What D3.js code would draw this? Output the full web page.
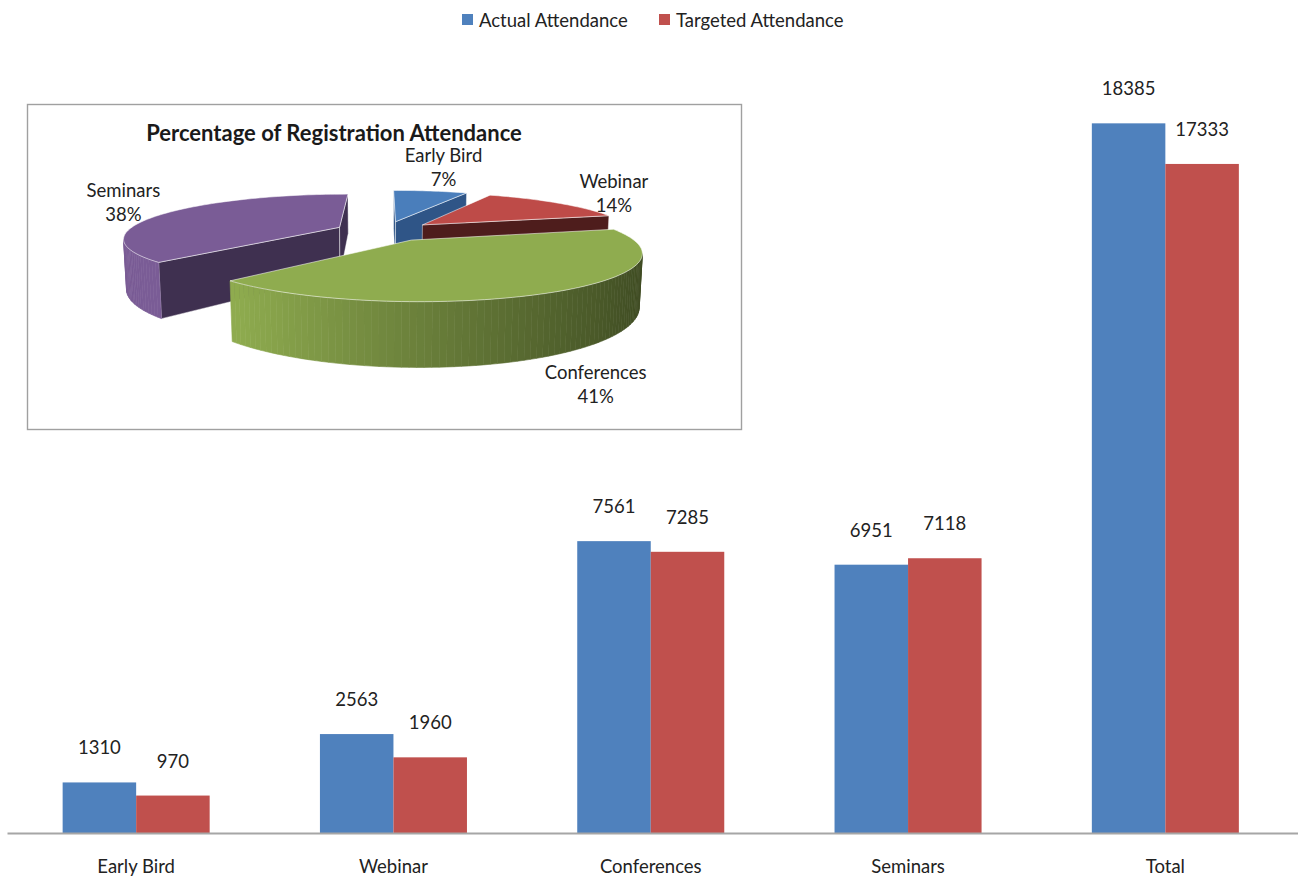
<!DOCTYPE html>
<html>
<head>
<meta charset="utf-8">
<script src="https://cdn.jsdelivr.net/npm/d3@7"></script>
<style>
  html, body { margin: 0; padding: 0; background: #fff; }
  svg { display: block; font-family: Lato, "Open Sans", sans-serif; }
</style>
</head>
<body>
<svg id="chart" width="1298" height="876"></svg>
<script>
// ---------- data ----------
const categories = ["Early Bird", "Webinar", "Conferences", "Seminars", "Total"];
const seriesNames = ["Actual Attendance", "Targeted Attendance"];
const actualValues = [1310, 2563, 7561, 6951, 18385];
const targetedValues = [970, 1960, 7285, 7118, 17333];
const pieTitle = "Percentage of Registration Attendance";
const pieCategories = ["Early Bird", "Webinar", "Conferences", "Seminars"];
const pieValues = [1310, 2563, 7561, 6951];

// ---------- styles ----------
const seriesColors = ["#4F81BD", "#C0504D"];
const pieTopColors = ["#4A7EBB", "#BE4B48", "#8FAC4F", "#7A5C96"];
const pieCutColors = ["#2F5587", "#4E1D1C", "#4F6329", "#3F3050"];
const pieLabelNudge = [[13, -23], [57, -9], [36, 94], [-42, -10]];
const FS = 18.5;

const svg = d3.select("#chart");
const W = 1298, H = 876;

// ---------- bar chart ----------
const baseY = 833;
const x0 = d3.scaleBand().domain(categories).range([7.5, 1294]).padding(0);
const x1 = d3.scaleBand().domain(seriesNames)
  .range([x0.bandwidth() * 0.2143, x0.bandwidth() * 0.7857]).padding(0);
const y = d3.scaleLinear().domain([0, 20000]).range([baseY, 61]);

const rows = categories.map((c, i) => ({ cat: c, vals: [actualValues[i], targetedValues[i]] }));

const groups = svg.append("g").selectAll("g").data(rows).join("g")
  .attr("transform", d => `translate(${x0(d.cat)},0)`);

groups.selectAll("rect").data(d => d.vals.map((v, j) => ({ v, s: seriesNames[j], j })))
  .join("rect")
  .attr("x", d => x1(d.s))
  .attr("y", d => y(d.v))
  .attr("width", x1.bandwidth())
  .attr("height", d => baseY - y(d.v))
  .attr("fill", d => seriesColors[d.j]);

groups.selectAll("text.val").data(d => d.vals.map((v, j) => ({ v, s: seriesNames[j], j })))
  .join("text").attr("class", "val")
  .attr("x", d => x1(d.s) + x1.bandwidth() / 2)
  .attr("y", d => y(d.v) - 28)
  .attr("text-anchor", "middle")
  .attr("font-size", FS)
  .attr("fill", "#222")
  .text(d => d.v);

// axis
const xAxis = d3.axisBottom(x0).tickSize(0).tickPadding(27);
const axG = svg.append("g").attr("transform", `translate(0,${baseY})`).call(xAxis);
axG.select(".domain").remove();
axG.selectAll("text").attr("font-size", FS).attr("fill", "#222").attr("font-family", "Lato, 'Open Sans', sans-serif");
svg.append("line").attr("x1", 7.5).attr("x2", W).attr("y1", baseY + 0.5).attr("y2", baseY + 0.5)
  .attr("stroke", "#A6A6A6").attr("stroke-width", 2);

// legend
const legend = svg.append("g");
const legX = [462, 659];
seriesNames.forEach((s, i) => {
  legend.append("rect").attr("x", legX[i]).attr("y", 14).attr("width", 11).attr("height", 11).attr("fill", seriesColors[i]);
  legend.append("text").attr("x", legX[i] + 17).attr("y", 26.5).attr("font-size", FS).attr("fill", "#222").text(s);
});

// ---------- 3D pie inset ----------
const box = svg.append("g");
box.append("rect").attr("x", 27.5).attr("y", 104.5).attr("width", 714).attr("height", 325)
  .attr("fill", "#fff").attr("stroke", "#A0A0A0").attr("stroke-width", 1.4);
box.append("text").attr("x", 334).attr("y", 141).attr("text-anchor", "middle")
  .attr("font-size", 22).attr("font-weight", "bold").attr("fill", "#1a1a1a").text(pieTitle);

const R = 212, h = 50, e = 50, D = 900, cx = 385, cy = 231;
const sinT = 0.2, cosT = Math.sqrt(1 - sinT * sinT);
const cam = [0, D * sinT, D * cosT];
function P(X, Y, Z) {
  const depth = Z * cosT + Y * sinT;
  const s = D / (D - depth);
  return [cx + X * s, cy + (Z * sinT - Y * cosT) * s];
}
const arcs = d3.pie().sort(null).value(d => d)(pieValues);
const total = d3.sum(pieValues);
const pct = d3.format(".0%");

const slices = arcs.map((d, i) => {
  const a0 = d.startAngle, a1 = d.endAngle, mid = (a0 + a1) / 2;
  const ox = e * Math.sin(mid), oz = -e * Math.cos(mid);
  return { i, a0, a1, mid, ox, oz, depth: oz * cosT };
}).sort((a, b) => a.depth - b.depth);

const pieG = box.append("g");
const line = d3.line();
function visible(n, p) {
  return (cam[0] - p[0]) * n[0] + (cam[1] - p[1]) * n[1] + (cam[2] - p[2]) * n[2] > 0;
}
slices.forEach(sl => {
  const W3 = (a, r, Yv) => [sl.ox + r * Math.sin(a), Yv, sl.oz - r * Math.cos(a)];
  const pt = (a, r, Yv) => P(...W3(a, r, Yv));
  const g = pieG.append("g");
  const top = pieTopColors[sl.i];
  // cut faces
  [[sl.a0, [-Math.cos(sl.a0), 0, -Math.sin(sl.a0)]], [sl.a1, [Math.cos(sl.a1), 0, Math.sin(sl.a1)]]].forEach(([a, n]) => {
    const pm = W3(a, R / 2, -h / 2);
    if (visible(n, pm)) {
      g.append("path").attr("d", line([pt(0, 0, 0), pt(a, R, 0), pt(a, R, -h), pt(0, 0, -h)]) + "Z")
        .attr("fill", pieCutColors[sl.i]).attr("stroke", "#fff").attr("stroke-opacity", 0.55).attr("stroke-width", 0.8)
        .attr("stroke-linejoin", "round");
    }
  });
  // outer side
  const N = Math.max(4, Math.ceil((sl.a1 - sl.a0) / (Math.PI / 120)));
  for (let k = 0; k < N; k++) {
    const aa = sl.a0 + (sl.a1 - sl.a0) * k / N, ab = sl.a0 + (sl.a1 - sl.a0) * (k + 1) / N;
    const am = (aa + ab) / 2;
    const n = [Math.sin(am), 0, -Math.cos(am)];
    if (!visible(n, W3(am, R, -h / 2))) continue;
    const kk = Math.max(0, Math.min(1, (Math.sin(am) + 0.7) / 1.7));
    const col = d3.rgb(top).darker(2.4 * Math.pow(kk, 1.2)).formatHex();
    g.append("path").attr("d", line([pt(aa, R, 0), pt(ab, R, 0), pt(ab, R, -h), pt(aa, R, -h)]) + "Z")
      .attr("fill", col).attr("stroke", col).attr("stroke-width", 0.6);
  }
  // top face
  const pts = [pt(0, 0, 0)];
  for (let k = 0; k <= N; k++) pts.push(pt(sl.a0 + (sl.a1 - sl.a0) * k / N, R, 0));
  g.append("path").attr("d", line(pts) + "Z").attr("fill", top)
    .attr("stroke", "#fff").attr("stroke-opacity", 0.6).attr("stroke-width", 0.9).attr("stroke-linejoin", "round");
});

// pie labels
arcs.forEach((d, i) => {
  const mid = (d.startAngle + d.endAngle) / 2;
  const p = P((R + e) * Math.sin(mid), 0, -(R + e) * Math.cos(mid));
  const lx = p[0] + pieLabelNudge[i][0], ly = p[1] + pieLabelNudge[i][1];
  const t = box.append("text").attr("text-anchor", "middle").attr("font-size", FS).attr("fill", "#222");
  t.append("tspan").attr("x", lx).attr("y", ly - 6).text(pieCategories[i]);
  t.append("tspan").attr("x", lx).attr("y", ly + 18).text(pct(d.data / total));
});
</script>
</body>
</html>
